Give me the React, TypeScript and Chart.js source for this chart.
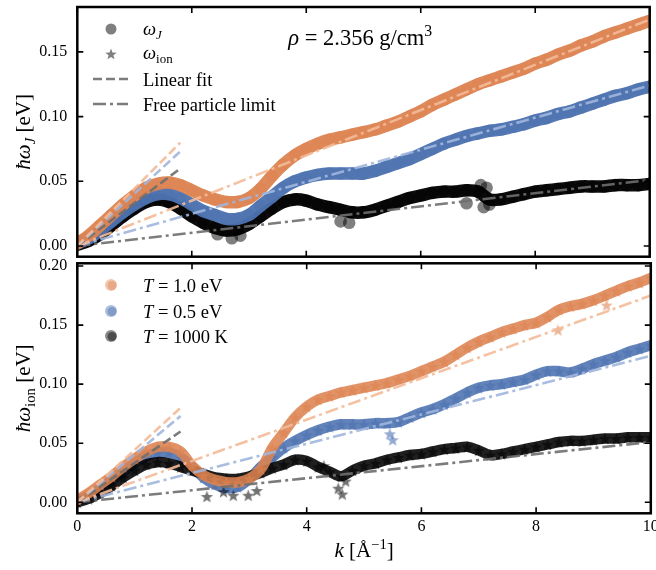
import React, { useEffect, useRef } from 'react';
import { Chart, registerables } from 'chart.js';
Chart.register(...registerables);

// ---------- data ----------
const K = [0, 0.2, 0.4, 0.6, 0.8, 1, 1.2, 1.4, 1.6, 1.8, 2, 2.2, 2.4, 2.6, 2.8, 3, 3.2, 3.4, 3.6, 3.8, 4, 4.2, 4.4, 4.6, 4.8, 5, 5.2, 5.4, 5.6, 5.8, 6, 6.2, 6.4, 6.6, 6.8, 7, 7.2, 7.4, 7.6, 7.8, 8, 8.2, 8.4, 8.6, 8.8, 9, 9.2, 9.4, 9.6, 9.8, 10];

// omega_J (top panel)
const TOP_ORANGE = [0.002, 0.008, 0.016, 0.024, 0.032, 0.039, 0.045, 0.048, 0.049, 0.047, 0.043, 0.039, 0.036, 0.034, 0.034, 0.037, 0.044, 0.054, 0.063, 0.070, 0.075, 0.079, 0.082, 0.084, 0.086, 0.088, 0.090, 0.093, 0.096, 0.100, 0.104, 0.109, 0.113, 0.117, 0.121, 0.125, 0.128, 0.131, 0.134, 0.137, 0.141, 0.144, 0.148, 0.151, 0.155, 0.158, 0.162, 0.165, 0.168, 0.171, 0.174];
const TOP_BLUE = [0.002, 0.006, 0.012, 0.019, 0.026, 0.032, 0.037, 0.040, 0.040, 0.037, 0.032, 0.027, 0.024, 0.021, 0.021, 0.024, 0.031, 0.038, 0.045, 0.050, 0.053, 0.055, 0.056, 0.056, 0.056, 0.056, 0.058, 0.061, 0.064, 0.067, 0.071, 0.075, 0.079, 0.082, 0.085, 0.087, 0.089, 0.090, 0.092, 0.094, 0.097, 0.099, 0.102, 0.104, 0.107, 0.110, 0.113, 0.116, 0.118, 0.121, 0.123];
const TOP_BLACK = [0.001, 0.004, 0.009, 0.016, 0.023, 0.029, 0.034, 0.036, 0.034, 0.029, 0.023, 0.018, 0.014, 0.012, 0.013, 0.017, 0.023, 0.029, 0.034, 0.036, 0.035, 0.032, 0.030, 0.028, 0.026, 0.026, 0.028, 0.031, 0.034, 0.037, 0.039, 0.041, 0.042, 0.042, 0.043, 0.042, 0.036, 0.036, 0.038, 0.040, 0.042, 0.043, 0.044, 0.045, 0.046, 0.046, 0.046, 0.047, 0.047, 0.047, 0.048];
const TOP_BLACK_OUT_K = [2.45, 2.7, 2.85, 4.6, 4.75, 6.8, 7.05, 7.1, 7.15, 7.2];
const TOP_BLACK_OUT_V = [0.009, 0.006, 0.008, 0.019, 0.018, 0.033, 0.047, 0.030, 0.045, 0.032];

// omega_ion (bottom panel)
const BOT_ORANGE = [0.002, 0.008, 0.015, 0.022, 0.030, 0.037, 0.043, 0.047, 0.047, 0.043, 0.031, 0.023, 0.019, 0.017, 0.017, 0.020, 0.028, 0.046, 0.059, 0.072, 0.081, 0.087, 0.090, 0.093, 0.095, 0.097, 0.099, 0.101, 0.104, 0.107, 0.111, 0.115, 0.119, 0.125, 0.131, 0.136, 0.140, 0.144, 0.147, 0.150, 0.152, 0.157, 0.163, 0.166, 0.168, 0.171, 0.175, 0.179, 0.183, 0.186, 0.190];
const BOT_BLUE = [0.001, 0.006, 0.012, 0.019, 0.026, 0.033, 0.039, 0.042, 0.042, 0.038, 0.030, 0.021, 0.015, 0.012, 0.013, 0.020, 0.030, 0.038, 0.046, 0.052, 0.057, 0.061, 0.064, 0.066, 0.066, 0.066, 0.067, 0.067, 0.068, 0.072, 0.076, 0.079, 0.083, 0.088, 0.093, 0.097, 0.099, 0.100, 0.102, 0.104, 0.108, 0.111, 0.111, 0.110, 0.113, 0.117, 0.120, 0.123, 0.127, 0.130, 0.133];
const BOT_BLACK = [0.000, 0.003, 0.008, 0.014, 0.021, 0.027, 0.032, 0.034, 0.033, 0.030, 0.027, 0.024, 0.021, 0.020, 0.020, 0.022, 0.025, 0.029, 0.032, 0.036, 0.035, 0.030, 0.026, 0.022, 0.027, 0.031, 0.033, 0.036, 0.038, 0.040, 0.041, 0.043, 0.045, 0.046, 0.047, 0.044, 0.040, 0.041, 0.043, 0.045, 0.047, 0.049, 0.051, 0.052, 0.052, 0.053, 0.054, 0.054, 0.055, 0.055, 0.055];
const BOT_BLACK_OUT_K = [2.26, 2.55, 2.72, 2.98, 3.13, 4.3, 4.55, 4.62, 4.68];
const BOT_BLACK_OUT_V = [0.005, 0.009, 0.006, 0.006, 0.010, 0.031, 0.012, 0.007, 0.018];
const BOT_BLUE_OUT_K = [5.45, 5.5];
const BOT_BLUE_OUT_V = [0.058, 0.053];
const BOT_ORANGE_OUT_K = [8.38, 9.23];
const BOT_ORANGE_OUT_V = [0.146, 0.167];

// fits: [T=1.0 eV, T=0.5 eV, T=1000 K]
const LIN_FIT_SLOPES = [0.0444, 0.0406, 0.0333];
const LIN_FIT_K = [0, 1.8];
const FREE_SLOPES = [0.0175, 0.0124, 0.0051];
const FREE_K = [0, 10];

// axes
const X_TICKS = [0, 2, 4, 6, 8, 10];
const TOP_Y_TICKS = [0, 0.05, 0.1, 0.15];
const BOT_Y_TICKS = [0, 0.05, 0.1, 0.15, 0.2];
const TOP_Y_RANGE = [-0.0083, 0.1847];
const BOT_Y_RANGE = [-0.0093, 0.2023];
const LEGEND_T = ['1.0 eV', '0.5 eV', '1000 K'];

// ---------- styles ----------
const FONT = '"Liberation Serif", "DejaVu Serif", serif';
const RGB = ['221,132,82', '76,114,176', '0,0,0'];
const FIT_COLORS = ['rgba(243,186,152,0.9)', 'rgba(160,182,222,0.9)', 'rgba(110,110,110,0.9)'];
const DASH = [9, 4];
const DASHDOT = [13, 4, 3, 4];

type Seg = { t: string; it?: boolean; sub?: boolean; sup?: boolean };

function segFont(s: Seg, size: number) {
  const sz = s.sub || s.sup ? size * 0.7 : size;
  return `${s.it ? 'italic ' : ''}${sz}px ${FONT}`;
}
function richWidth(ctx: CanvasRenderingContext2D, segs: Seg[], size: number) {
  let w = 0;
  for (const s of segs) { ctx.font = segFont(s, size); w += ctx.measureText(s.t).width; }
  return w;
}
function drawRich(ctx: CanvasRenderingContext2D, segs: Seg[], x: number, y: number, size: number, align = 'left') {
  let cx = align === 'center' ? x - richWidth(ctx, segs, size) / 2 : x;
  ctx.textBaseline = 'alphabetic';
  ctx.textAlign = 'left';
  ctx.fillStyle = '#000';
  for (const s of segs) {
    ctx.font = segFont(s, size);
    const dy = s.sub ? size * 0.22 : s.sup ? -size * 0.4 : 0;
    ctx.fillText(s.t, cx, y + dy);
    cx += ctx.measureText(s.t).width;
  }
}
function starPath(ctx: CanvasRenderingContext2D, cx: number, cy: number, R: number) {
  ctx.beginPath();
  for (let i = 0; i < 10; i++) {
    const r = i % 2 === 0 ? R : R * 0.42;
    const a = -Math.PI / 2 + (i * Math.PI) / 5;
    const x = cx + r * Math.cos(a);
    const y = cy + r * Math.sin(a);
    if (i === 0) ctx.moveTo(x, y); else ctx.lineTo(x, y);
  }
  ctx.closePath();
}
function makeStar(fill: string, R: number) {
  const c = document.createElement('canvas');
  const s = Math.ceil(2 * R + 2);
  c.width = s; c.height = s;
  const ctx = c.getContext('2d')!;
  ctx.fillStyle = fill;
  starPath(ctx, s / 2, s / 2 + R * 0.1, R);
  ctx.fill();
  return c;
}

function xy(ks: number[], vs: number[]) {
  return ks.map((k, i) => ({ x: k, y: vs[i] }));
}

function band(ks: number[], vs: number[], rgb: string, order: number, opts: any) {
  return {
    data: xy(ks, vs),
    showLine: true,
    borderColor: `rgba(${rgb},${opts.lineAlpha})`,
    borderWidth: opts.lineWidth,
    backgroundColor: `rgba(${rgb},${opts.pointAlpha})`,
    pointBackgroundColor: `rgba(${rgb},${opts.pointAlpha})`,
    pointBorderWidth: 0,
    pointRadius: opts.radius,
    pointStyle: opts.pointStyle,
    tension: 0.35,
    borderCapStyle: 'round',
    borderJoinStyle: 'round',
    order,
    clip: 0,
  };
}
function outliers(ks: number[], vs: number[], rgb: string, order: number, opts: any) {
  return {
    data: xy(ks, vs),
    showLine: false,
    backgroundColor: `rgba(${rgb},${opts.pointAlpha})`,
    pointBackgroundColor: `rgba(${rgb},${opts.pointAlpha})`,
    pointBorderWidth: 0,
    pointRadius: opts.radius,
    pointStyle: opts.pointStyle,
    order,
    clip: 0,
  };
}
function fitLines() {
  const out: any[] = [];
  LIN_FIT_SLOPES.forEach((m, i) => {
    out.push({
      data: LIN_FIT_K.map((k) => ({ x: k, y: m * k })),
      showLine: true, pointRadius: 0, borderColor: FIT_COLORS[i], borderWidth: 2.6,
      borderDash: DASH, order: 0, clip: 0,
    });
  });
  FREE_SLOPES.forEach((m, i) => {
    out.push({
      data: FREE_K.map((k) => ({ x: k, y: m * k })),
      showLine: true, pointRadius: 0, borderColor: FIT_COLORS[i], borderWidth: 2.6,
      borderDash: DASHDOT, order: 0, clip: 0,
    });
  });
  return out;
}

function frameAndTicks(chart: any, yTicks: number[]) {
  const { ctx, chartArea: a, scales } = chart;
  const TL = 6;
  ctx.save();
  ctx.strokeStyle = '#000';
  ctx.lineWidth = 1.6;
  ctx.setLineDash([]);
  ctx.beginPath();
  for (const v of X_TICKS) {
    const x = scales.x.getPixelForValue(v);
    ctx.moveTo(x, a.bottom); ctx.lineTo(x, a.bottom - TL);
    ctx.moveTo(x, a.top); ctx.lineTo(x, a.top + TL);
  }
  for (const v of yTicks) {
    const y = scales.y.getPixelForValue(v);
    ctx.moveTo(a.left, y); ctx.lineTo(a.left + TL, y);
    ctx.moveTo(a.right, y); ctx.lineTo(a.right - TL, y);
  }
  ctx.stroke();
  ctx.lineWidth = 2.5;
  ctx.strokeRect(a.left, a.top, a.right - a.left, a.bottom - a.top);
  ctx.restore();
}

function legendLine(ctx: CanvasRenderingContext2D, x0: number, x1: number, y: number, dash: number[]) {
  ctx.save();
  ctx.strokeStyle = 'rgba(110,110,110,0.9)';
  ctx.lineWidth = 2.6;
  ctx.setLineDash(dash);
  ctx.beginPath(); ctx.moveTo(x0, y); ctx.lineTo(x1, y); ctx.stroke();
  ctx.restore();
}

const topDecor = {
  id: 'topDecor',
  afterDraw(chart: any) {
    const { ctx, chartArea: a } = chart;
    frameAndTicks(chart, TOP_Y_TICKS);
    ctx.save();
    ctx.save();
    ctx.translate(30, (a.top + a.bottom) / 2);
    ctx.rotate(-Math.PI / 2);
    drawRich(ctx, [{ t: 'ħ', it: true }, { t: 'ω', it: true }, { t: 'J', it: true, sub: true }, { t: ' [eV]' }], 0, 0, 21, 'center');
    ctx.restore();
    const lx = a.left + 33.7, tx = a.left + 65.7;
    ctx.fillStyle = 'rgba(0,0,0,0.5)';
    ctx.beginPath(); ctx.arc(lx, a.top + 22, 5.5, 0, Math.PI * 2); ctx.fill();
    drawRich(ctx, [{ t: 'ω', it: true }, { t: 'J', it: true, sub: true }], tx, a.top + 28, 18.5);
    ctx.fillStyle = 'rgba(0,0,0,0.5)';
    starPath(ctx, lx, a.top + 47.5, 6); ctx.fill();
    drawRich(ctx, [{ t: 'ω', it: true }, { t: 'ion', sub: true }], tx, a.top + 52, 18.5);
    legendLine(ctx, a.left + 15.7, a.left + 50.7, a.top + 72, DASH);
    drawRich(ctx, [{ t: 'Linear fit' }], tx, a.top + 79, 18.5);
    legendLine(ctx, a.left + 15.7, a.left + 50.7, a.top + 97, DASHDOT);
    drawRich(ctx, [{ t: 'Free particle limit' }], tx, a.top + 103.7, 18.5);
    drawRich(ctx, [{ t: 'ρ', it: true }, { t: ' = 2.356 g/cm' }, { t: '3', sup: true }], a.left + 211, a.top + 38, 22.5);
    ctx.restore();
  },
};

const botDecor = {
  id: 'botDecor',
  afterDraw(chart: any) {
    const { ctx, chartArea: a } = chart;
    frameAndTicks(chart, BOT_Y_TICKS);
    ctx.save();
    ctx.save();
    ctx.translate(30, (a.top + a.bottom) / 2);
    ctx.rotate(-Math.PI / 2);
    drawRich(ctx, [{ t: 'ħ', it: true }, { t: 'ω', it: true }, { t: 'ion', sub: true }, { t: ' [eV]' }], 0, 0, 21, 'center');
    ctx.restore();
    drawRich(ctx, [{ t: 'k', it: true }, { t: ' [Å' }, { t: '−1', sup: true }, { t: ']' }], (a.left + a.right) / 2, 557, 21, 'center');
    const lx = a.left + 33.7, tx = a.left + 65.7;
    const ys = [285, 311, 336];
    LEGEND_T.forEach((lab, i) => {
      const y = ys[i];
      ctx.fillStyle = `rgba(${RGB[i]},0.45)`;
      ctx.beginPath(); ctx.arc(lx, y, 6, 0, Math.PI * 2); ctx.fill();
      ctx.beginPath(); ctx.arc(lx + 1, y + 0.5, 4.5, 0, Math.PI * 2); ctx.fill();
      drawRich(ctx, [{ t: 'T', it: true }, { t: ' = ' + lab }], tx, y + 6.5, 18.5);
    });
    ctx.restore();
  },
};

function yScale(range: number[], ticks: number[]) {
  return {
    type: 'linear',
    min: range[0],
    max: range[1],
    grid: { display: false, drawTicks: false },
    border: { display: false },
    afterBuildTicks: (s: any) => { s.ticks = ticks.map((v) => ({ value: v })); },
    ticks: { font: { family: FONT, size: 16 }, color: '#000', padding: 10, callback: (v: any) => Number(v).toFixed(2) },
    afterFit: (s: any) => { s.width = 77.3; s.paddingTop = 0; s.paddingBottom = 0; },
  };
}

export default function App() {
  const topRef = useRef<HTMLCanvasElement>(null);
  const botRef = useRef<HTMLCanvasElement>(null);

  useEffect(() => {
    const starO = makeStar(`rgba(${RGB[0]},0.6)`, 6.5);
    const starB = makeStar(`rgba(${RGB[1]},0.6)`, 6.5);
    const starK = makeStar(`rgba(${RGB[2]},0.55)`, 6.5);
    const circ = { lineAlpha: 0.95, lineWidth: 12.5, pointAlpha: 0.5, radius: 6.3, pointStyle: 'circle' };

    const top = new Chart(topRef.current!, {
      type: 'scatter',
      data: {
        datasets: [
          ...fitLines(),
          band(K, TOP_ORANGE, RGB[0], 1, circ),
          band(K, TOP_BLUE, RGB[1], 2, circ),
          band(K, TOP_BLACK, RGB[2], 3, circ),
          outliers(TOP_BLACK_OUT_K, TOP_BLACK_OUT_V, RGB[2], 3, circ),
        ],
      } as any,
      options: {
        responsive: false,
        animation: false,
        events: [],
        layout: { padding: { top: 7, right: 5.2, bottom: 313.3, left: 0 } },
        plugins: { legend: { display: false }, tooltip: { enabled: false } },
        scales: {
          x: { type: 'linear', min: 0, max: 10, display: false },
          y: yScale(TOP_Y_RANGE, TOP_Y_TICKS),
        },
      } as any,
      plugins: [topDecor],
    });

    const st = (img: any) => ({ lineAlpha: 0.88, lineWidth: 10.5, pointAlpha: 0.6, radius: 5, pointStyle: img });
    const bot = new Chart(botRef.current!, {
      type: 'scatter',
      data: {
        datasets: [
          ...fitLines(),
          band(K, BOT_ORANGE, RGB[0], 1, st(starO)),
          outliers(BOT_ORANGE_OUT_K, BOT_ORANGE_OUT_V, RGB[0], 1, st(starO)),
          band(K, BOT_BLACK, RGB[2], 2, st(starK)),
          outliers(BOT_BLACK_OUT_K, BOT_BLACK_OUT_V, RGB[2], 2, st(starK)),
          band(K, BOT_BLUE, RGB[1], 3, st(starB)),
          outliers(BOT_BLUE_OUT_K, BOT_BLUE_OUT_V, RGB[1], 3, st(starB)),
        ],
      } as any,
      options: {
        responsive: false,
        animation: false,
        events: [],
        layout: { padding: { top: 263.3, right: 5.2, bottom: 0, left: 0 } },
        plugins: { legend: { display: false }, tooltip: { enabled: false } },
        scales: {
          x: {
            type: 'linear', min: 0, max: 10,
            grid: { display: false, drawTicks: false },
            border: { display: false },
            afterBuildTicks: (s: any) => { s.ticks = X_TICKS.map((v) => ({ value: v })); },
            ticks: { font: { family: FONT, size: 16 }, color: '#000', padding: 4, maxRotation: 0, autoSkip: false, callback: (v: any) => String(v) },
            afterFit: (s: any) => { s.height = 56.7; s.paddingLeft = 0; s.paddingRight = 0; },
          },
          y: yScale(BOT_Y_RANGE, BOT_Y_TICKS),
        },
      } as any,
      plugins: [botDecor],
    });

    return () => { top.destroy(); bot.destroy(); };
  }, []);

  return (
    <div style={{ position: 'fixed', left: 0, top: 0, width: 656, height: 570, background: '#fff' }}>
      <canvas ref={botRef} width={656} height={570} style={{ position: 'absolute', left: 0, top: 0 }} />
      <canvas ref={topRef} width={656} height={570} style={{ position: 'absolute', left: 0, top: 0 }} />
    </div>
  );
}
